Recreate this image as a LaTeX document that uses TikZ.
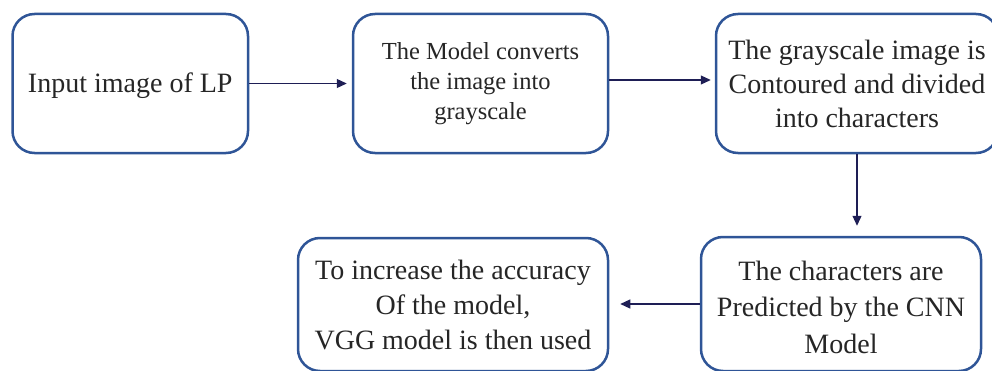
\documentclass[tikz,border=0pt]{standalone}
\usepackage{fontspec}
\setmainfont{Liberation Serif}
\usetikzlibrary{arrows.meta}
\definecolor{boxblue}{RGB}{47,85,151}
\definecolor{arrownavy}{RGB}{30,30,85}
\definecolor{txtgray}{RGB}{38,38,38}
\tikzset{
  flowbox/.style={draw=boxblue, line width=2.5pt, rounded corners=22pt, fill=white,
    align=center, inner sep=0pt, text=txtgray,
    font=\fontsize{28}{34}\selectfont},
  boxtext/.style={align=center, inner sep=0pt, text=txtgray,
    font=\fontsize{28}{36.5}\selectfont},
  flowarrow/.style={draw=arrownavy, line width=1.2pt,
    -{Triangle[length=10pt,width=9pt]}}
}
\begin{document}
\begin{tikzpicture}[x=1pt,y=1pt]
\useasboundingbox (0,0) rectangle (992,370);
\node[flowbox, minimum width=235.5pt, minimum height=139pt,
  label={[boxtext, yshift=-2.5pt]center:Input image of LP}] (b1) at (130.25,286.5) {};
\node[flowbox, minimum width=255pt, minimum height=139pt,
  font=\fontsize{24.5}{30}\selectfont] (b2) at (480.5,286.5) {The Model converts\\the image into\\grayscale};
\node[flowbox, minimum width=282pt, minimum height=139pt] (b3) at (857,286.5) {The grayscale image is\\Contoured and divided\\into characters};
\node[flowbox, minimum width=280pt, minimum height=134pt,
  label={[boxtext, yshift=-3pt]center:The characters are\\Predicted by the CNN\\Model}] (b4) at (841,66) {};
\node[flowbox, minimum width=310pt, minimum height=133pt,
  font=\fontsize{28}{35}\selectfont] (b5) at (453,65.5) {To increase the accuracy\\Of the model,\\VGG model is then used};
\draw[flowarrow, shorten >=5pt] (b1.east) -- (b2.west);
\draw[flowarrow, shorten >=4pt] ([yshift=3.5pt]b2.east) -- ([yshift=3.5pt]b3.west);
\draw[flowarrow, shorten >=10pt] (b3.south) -- (b3.south |- b4.north);
\draw[flowarrow, shorten >=11pt] (b4.west) -- (b4.west -| b5.east);
\end{tikzpicture}
\end{document}
